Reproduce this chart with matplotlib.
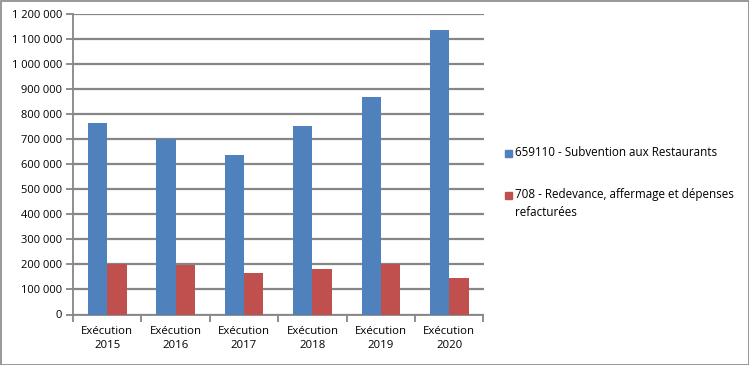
import matplotlib
matplotlib.use("Agg")
import matplotlib.pyplot as plt
from matplotlib.patches import Rectangle
import numpy as np

categories = ["Exécution\n2015", "Exécution\n2016", "Exécution\n2017",
              "Exécution\n2018", "Exécution\n2019", "Exécution\n2020"]
series_names = ["659110 - Subvention aux Restaurants",
                "708 - Redevance, affermage et dépenses\nrefacturées"]
subvention = [764000, 700000, 636000, 752000, 868000, 1135000]
redevance = [201000, 197000, 165000, 181000, 201000, 145000]
yticks = list(range(0, 1200001, 100000))
colors = ["#4F81BD", "#C0504D"]

plt.rcParams['font.family'] = ['Open Sans', 'DejaVu Sans']

W, H = 749, 365
fig = plt.figure(figsize=(W/100, H/100), dpi=100)
ax = fig.add_axes([73/W, 1-314.5/H, (483.5-73)/W, (314.5-14)/H])

x = np.arange(len(categories))
bw = 0.283
ax.bar(x - bw/2, subvention, bw, color=colors[0], zorder=3)
ax.bar(x + bw/2, redevance, bw, color=colors[1], zorder=3)

ax.set_xlim(-0.5, len(categories)-0.5)
ax.set_ylim(0, 1200000)
ax.set_yticks(yticks)
ax.set_yticklabels([f"{v:,}".replace(",", " ") for v in yticks], fontsize=8)
ax.yaxis.grid(True, color="#868686", linewidth=1.6, zorder=0)
ax.set_axisbelow(True)

ax.set_xticks(np.arange(len(categories)+1) - 0.5, minor=False)
ax.set_xticklabels([])
ax.set_xticks(x, minor=True)
ax.set_xticklabels(categories, minor=True, fontsize=8.2, linespacing=1.45)
ax.tick_params(axis='x', which='minor', length=0, pad=8)
ax.tick_params(axis='x', which='major', length=5, color="#868686", width=1.3)
ax.tick_params(axis='y', length=5, color="#868686", width=1.3, pad=3)

for s in ['top', 'right']:
    ax.spines[s].set_visible(False)
for s in ['left', 'bottom']:
    ax.spines[s].set_color("#868686")
    ax.spines[s].set_linewidth(1.3)

# legend drawn manually
leg_y = [154, 195]
for i, (name, c) in enumerate(zip(series_names, colors)):
    fig.patches.append(Rectangle((505/W, 1-(leg_y[i]+3.5)/H), 7/W, 7/H,
                                 transform=fig.transFigure, color=c))
    fig.text(515/W, 1-(leg_y[i]-7.5)/H, name, fontsize=8.4, va='top', ha='left',
             linespacing=1.5)

fig.patches.append(Rectangle((0.5/W, 0.5/H), 1-1/W, 1-1/H, transform=fig.transFigure,
                             fill=False, edgecolor="#868686", linewidth=1.2))

fig.savefig("out.png", dpi=100)
